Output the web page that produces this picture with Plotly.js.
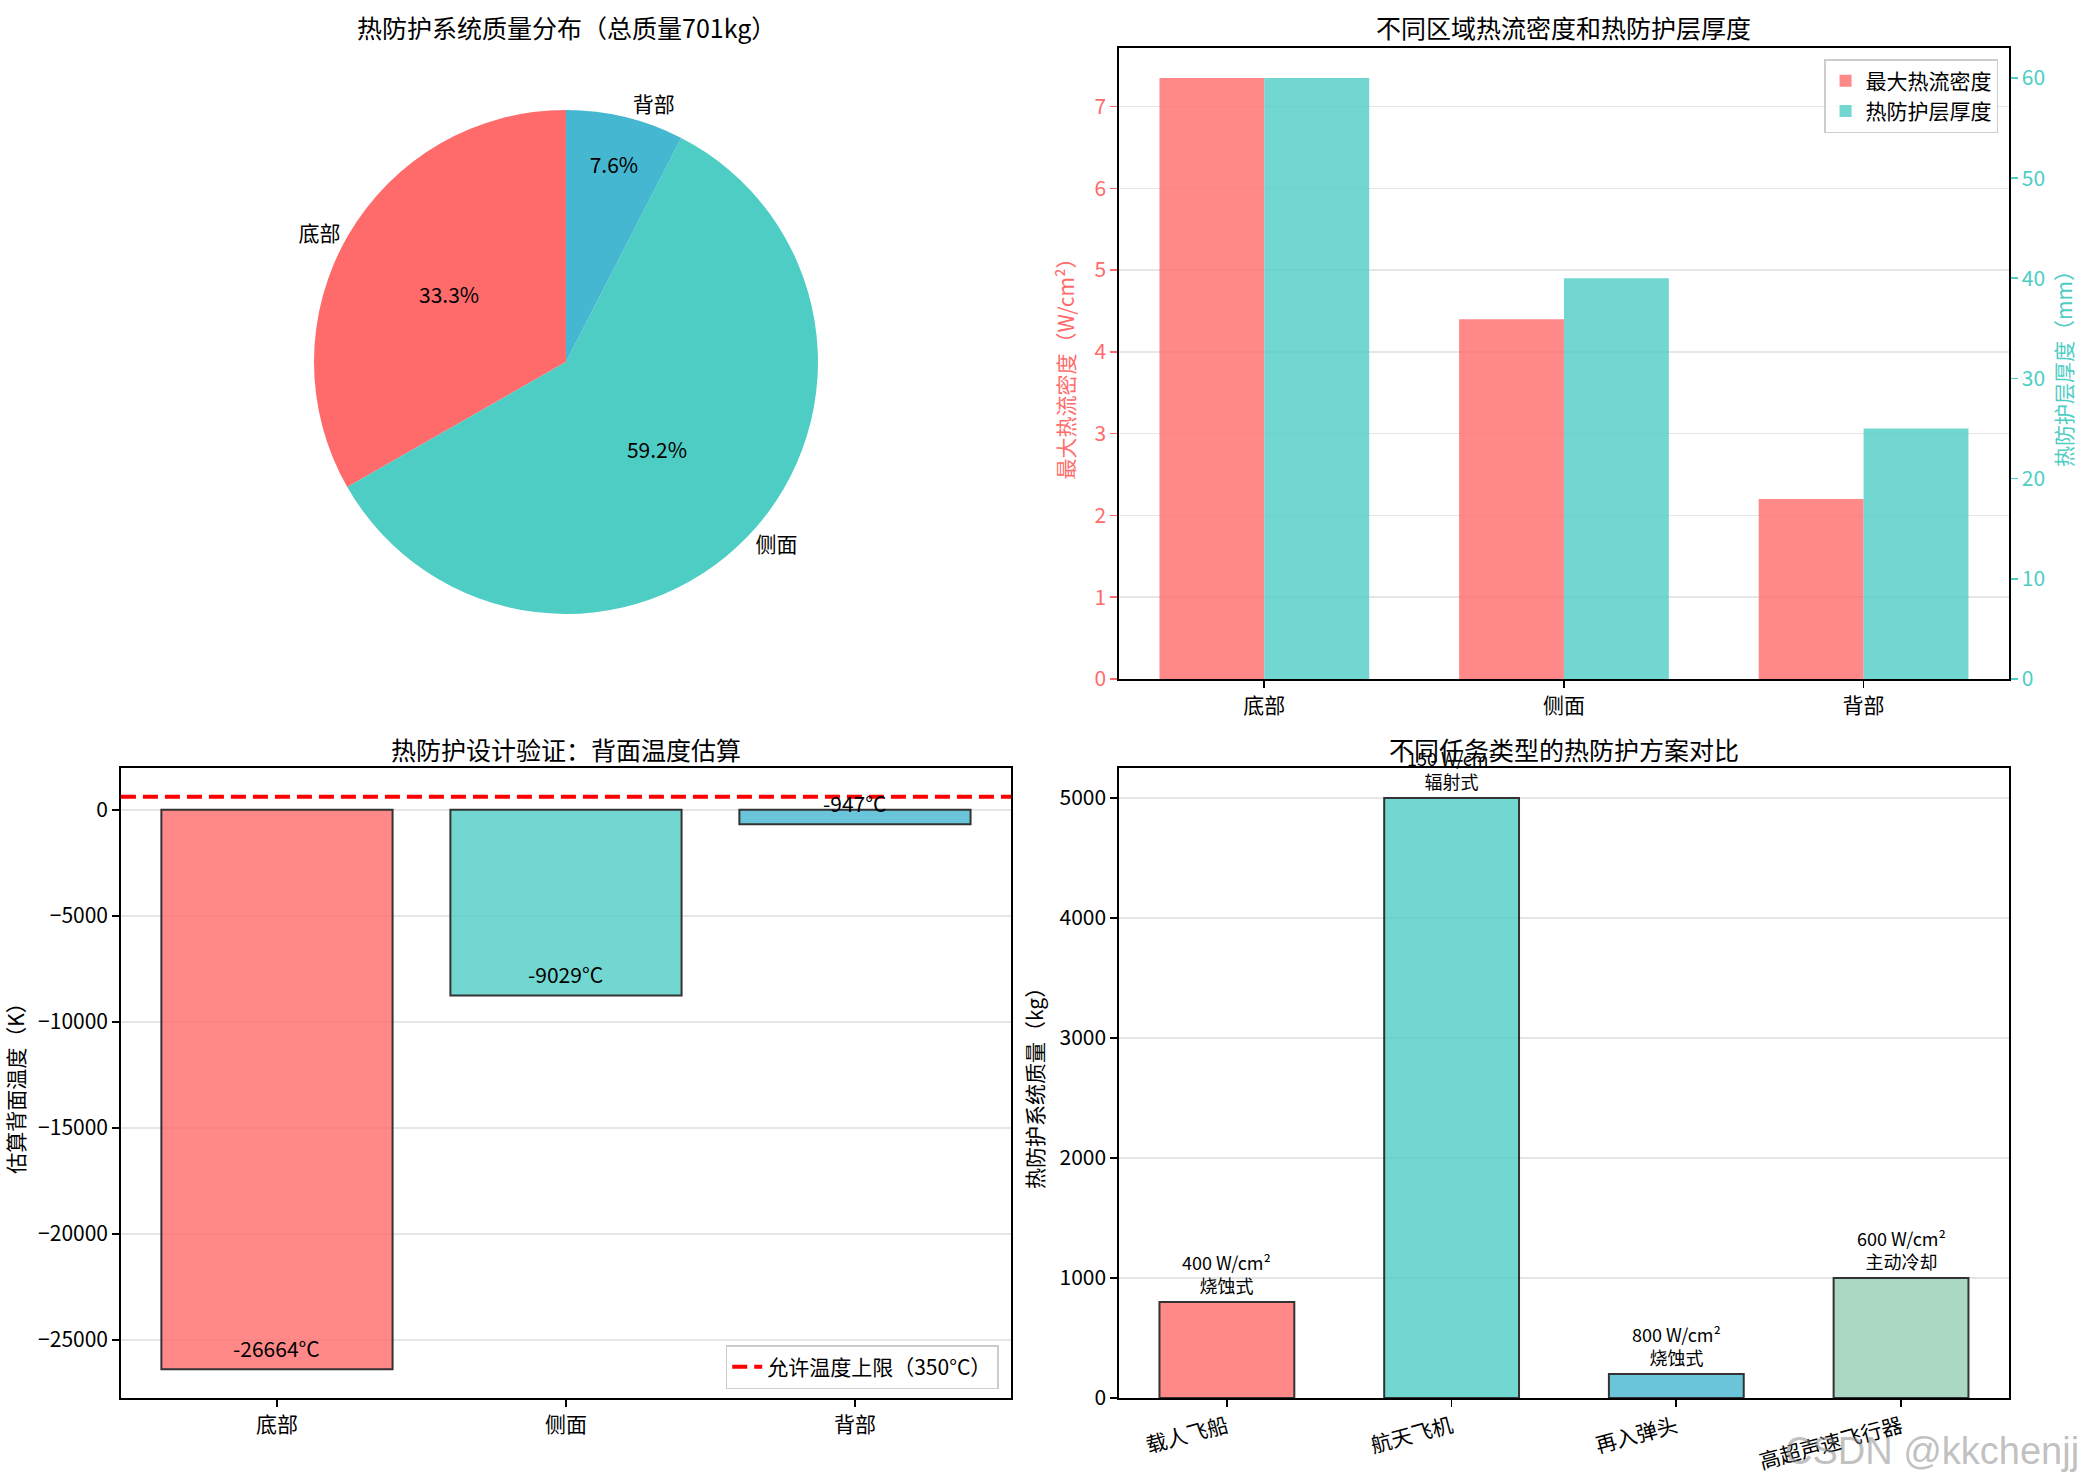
<!DOCTYPE html>
<html>
<head>
<meta charset="utf-8">
<script src="https://cdn.plot.ly/plotly-3.0.1.min.js"></script>
<style>body{margin:0;background:#fff}</style>
</head>
<body>
<div id="chart" style="width:2085px;height:1484px"></div>
<script>
// 各区域数据
const regions = ['底部', '侧面', '背部'];
const regionMass = [233.2, 414.8, 53.0];      // kg
const heatFlux = [7.35, 4.4, 2.2];            // 最大热流密度
const thickness = [60, 40, 25];               // mm
const backTempK = [-26391, -8756, -674];      // 估算背面温度 (K)
const limitTempC = 350;

// 任务类型对比
const missions = ['载人飞船', '航天飞机', '再入弹头', '高超声速飞行器'];
const missionMass = [800, 5000, 200, 1000];
const missionFlux = [400, 150, 800, 600];
const missionType = ['烧蚀式', '辐射式', '烧蚀式', '主动冷却'];

const RED = '#FF6B6B', TEAL = '#4ECDC4', BLUE = '#45B7D1', GREEN = '#96CEB4';
const FONT = '"Noto Sans CJK SC", "Noto Sans", sans-serif';

function rgba(hex, a) {
  const n = parseInt(hex.slice(1), 16);
  return `rgba(${(n >> 16) & 255},${(n >> 8) & 255},${n & 255},${a})`;
}

// plotly 逆时针时第一块结束于 rotation，这里让它从 12 点开始
const totalMass = regionMass.reduce((a, b) => a + b, 0);
const pieRotation = -regionMass[0] / totalMass * 360;

// 饼图：内部百分比 + 外部标签（两层叠加）
const pieBase = {
  type: 'pie',
  labels: regions,
  values: regionMass,
  sort: false,
  direction: 'counterclockwise',
  rotation: pieRotation,
  domain: { x: [0.1506, 0.3923], y: [0.5863, 0.9259] },
  hoverinfo: 'skip',
  showlegend: false
};
const pieInner = Object.assign({}, pieBase, {
  marker: { colors: [RED, TEAL, BLUE] },
  textposition: 'inside',
  insidetextorientation: 'horizontal',
  texttemplate: '%{percent:.1%}',
  textfont: { size: 21, color: '#000' }
});
const pieOuter = Object.assign({}, pieBase, {
  marker: { colors: regions.map(() => 'rgba(0,0,0,0)') },
  textposition: 'outside',
  texttemplate: '%{label}',
  textfont: { size: 21, color: '#000' }
});

// 热流密度与厚度（双轴）
const fluxTrace = {
  type: 'bar', x: regions, y: heatFlux, name: '最大热流密度',
  marker: { color: rgba(RED, 0.8) }, width: 0.35, offset: -0.35,
  xaxis: 'x', yaxis: 'y'
};
const thickTrace = {
  type: 'bar', x: regions, y: thickness, name: '热防护层厚度',
  marker: { color: rgba(TEAL, 0.8) }, width: 0.35, offset: 0,
  xaxis: 'x', yaxis: 'y2'
};

// 背面温度估算
const tempTrace = {
  type: 'bar', x: regions, y: backTempK, width: 0.8,
  marker: { color: [RED, TEAL, BLUE].map(c => rgba(c, 0.8)), line: { color: '#333', width: 2 } },
  xaxis: 'x2', yaxis: 'y3', showlegend: false, hoverinfo: 'skip'
};

// 任务对比
const missionTrace = {
  type: 'bar', x: missions, y: missionMass, width: 0.6,
  marker: { color: [RED, TEAL, BLUE, GREEN].map(c => rgba(c, 0.8)), line: { color: '#333', width: 2 } },
  xaxis: 'x3', yaxis: 'y4', showlegend: false, hoverinfo: 'skip'
};

const tickFont = { family: FONT, size: 21, color: '#000' };
const axisLine = { showline: true, linecolor: '#000', linewidth: 1.7, ticks: 'outside', ticklen: 7, tickwidth: 1.7, tickcolor: '#000', zeroline: false };
const grid = { showgrid: true, gridcolor: '#e6e6e6', gridwidth: 1.7 };

const titleAnn = (text, x, y) => ({
  text, x, y, xref: 'paper', yref: 'paper', xanchor: 'center', yanchor: 'middle',
  showarrow: false, font: { family: FONT, size: 25, color: '#000' }
});

const annotations = [
  titleAnn('热防护系统质量分布（总质量701kg）', 0.2715, 0.9818),
  titleAnn('不同区域热流密度和热防护层厚度', 0.7501, 0.9818),
  titleAnn('热防护设计验证：背面温度估算', 0.2715, 0.4953),
  titleAnn('不同任务类型的热防护方案对比', 0.7501, 0.4953)
];

backTempK.forEach((v, i) => {
  annotations.push({
    xref: 'x2', yref: 'y3', x: regions[i], y: v, yanchor: 'bottom', yshift: 4, showarrow: false,
    text: `${Math.round(v - 273)}°C`, font: { family: FONT, size: 21, color: '#000' }
  });
});

missionMass.forEach((v, i) => {
  annotations.push({
    xref: 'x3', yref: 'y4', x: missions[i], y: v, yanchor: 'bottom', yshift: 2, showarrow: false,
    text: `${missionFlux[i]} W/cm²<br>${missionType[i]}`,
    font: { family: FONT, size: 18, color: '#000' }
  });
});

annotations.push({
  xref: 'paper', yref: 'paper', x: 0.998, y: 0.022, xanchor: 'right', yanchor: 'middle', showarrow: false,
  text: 'CSDN @kkchenjj', font: { family: 'Liberation Sans, sans-serif', size: 38, color: 'rgba(140,140,140,0.55)' }
});

const layout = {
  width: 2085, height: 1484,
  margin: { l: 0, r: 0, t: 0, b: 0 },
  paper_bgcolor: '#fff', plot_bgcolor: '#fff',
  font: { family: FONT, size: 21, color: '#000' },
  barmode: 'group',
  annotations,
  shapes: [{
    type: 'line', xref: 'x2 domain', x0: 0, x1: 1, yref: 'y3',
    y0: limitTempC + 273, y1: limitTempC + 273,
    line: { color: 'red', width: 4, dash: '15px,7px' },
    showlegend: true, name: `允许温度上限（${limitTempC}°C）`, legend: 'legend2'
  }],
  legend: {
    x: 0.9583, xanchor: 'right', y: 0.9602, yanchor: 'top',
    bgcolor: 'rgba(255,255,255,0.8)', bordercolor: '#ccc', borderwidth: 1.5,
    font: { family: FONT, size: 21 }
  },
  legend2: {
    x: 0.479, xanchor: 'right', y: 0.064, yanchor: 'bottom',
    bgcolor: 'rgba(255,255,255,0.8)', bordercolor: '#ccc', borderwidth: 1.5,
    font: { family: FONT, size: 21 }
  },
  // 右上：双轴柱状图
  xaxis: Object.assign({}, axisLine, {
    domain: [0.5367, 0.9635], anchor: 'y', type: 'category', range: [-0.485, 2.485],
    mirror: true, showgrid: false, tickfont: tickFont
  }),
  yaxis: Object.assign({}, axisLine, grid, {
    domain: [0.5425, 0.9677], anchor: 'x', range: [0, 7.7175], dtick: 1,
    tickcolor: RED, tickfont: { family: FONT, size: 21, color: RED },
    title: { text: '最大热流密度（W/cm²）', font: { family: FONT, size: 21, color: RED }, standoff: 14 }
  }),
  yaxis2: Object.assign({}, axisLine, {
    overlaying: 'y', side: 'right', anchor: 'x', range: [0, 63], dtick: 10, showgrid: false,
    tickcolor: TEAL, tickfont: { family: FONT, size: 21, color: TEAL },
    title: { text: '热防护层厚度（mm）', font: { family: FONT, size: 21, color: TEAL } }
  }),
  // 左下：背面温度
  xaxis2: Object.assign({}, axisLine, {
    domain: [0.0580, 0.4849], anchor: 'y3', type: 'category', range: [-0.54, 2.54],
    mirror: true, showgrid: false, tickfont: tickFont
  }),
  yaxis3: Object.assign({}, axisLine, grid, {
    domain: [0.0580, 0.4825], anchor: 'x2', range: [-27740, 1975], dtick: 5000, mirror: true,
    tickformat: 'd', tickfont: tickFont,
    title: { text: '估算背面温度（K）', font: { family: FONT, size: 21 }, standoff: 10 }
  }),
  // 右下：任务对比
  xaxis3: Object.assign({}, axisLine, {
    domain: [0.5367, 0.9635], anchor: 'y4', type: 'category', range: [-0.48, 3.48],
    mirror: true, showgrid: false, tickangle: -15, tickfont: tickFont
  }),
  yaxis4: Object.assign({}, axisLine, grid, {
    domain: [0.0580, 0.4825], anchor: 'x3', range: [0, 5250], dtick: 1000, mirror: true,
    tickformat: 'd', tickfont: tickFont,
    title: { text: '热防护系统质量（kg）', font: { family: FONT, size: 21 }, standoff: 10 }
  })
};

Plotly.newPlot('chart',
  [pieInner, pieOuter, fluxTrace, thickTrace, tempTrace, missionTrace],
  layout,
  { displayModeBar: false, staticPlot: true });
</script>
</body>
</html>
